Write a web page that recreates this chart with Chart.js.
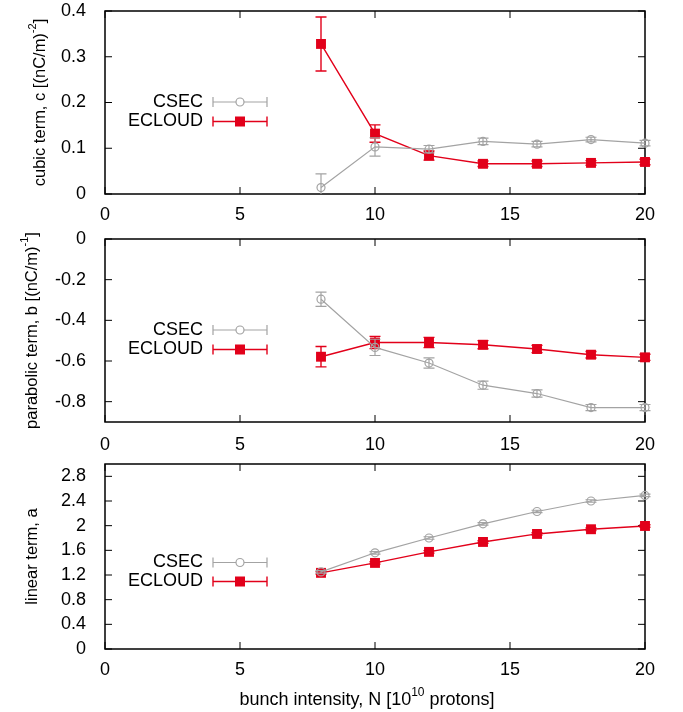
<!DOCTYPE html>
<html>
<head>
<meta charset="utf-8">
<script src="https://cdn.jsdelivr.net/npm/chart.js@4.4.0/dist/chart.umd.min.js"></script>
<style>
  body { margin: 0; background: #fff; }
  #wrap { position: relative; width: 683px; height: 712px; }
  canvas { position: absolute; left: 0; }
</style>
</head>
<body>
<div id="wrap">
  <canvas id="cubic" width="683" height="232" style="top:0px"></canvas>
  <canvas id="parabolic" width="683" height="232" style="top:225px"></canvas>
  <canvas id="linear" width="683" height="262" style="top:450px"></canvas>
</div>
<script>
// bunch intensity, N [1e10 protons]
const xValues = [8, 10, 12, 14, 16, 18, 20];
const xTicks = [0, 5, 10, 15, 20];

// cubic term c
const cubicCsec = [0.014, 0.103, 0.098, 0.115, 0.109, 0.119, 0.111];
const cubicCsecErr = [0.030, 0.020, 0.008, 0.007, 0.006, 0.005, 0.006];
const cubicEcloud = [0.328, 0.132, 0.084, 0.066, 0.066, 0.068, 0.070];
const cubicEcloudErr = [0.059, 0.019, 0.010, 0.006, 0.006, 0.005, 0.006];
const cubicTicks = [0, 0.1, 0.2, 0.3, 0.4];

// parabolic term b
const paraCsec = [-0.296, -0.533, -0.610, -0.719, -0.760, -0.829, -0.829];
const paraCsecErr = [0.035, 0.040, 0.025, 0.020, 0.018, 0.015, 0.015];
const paraEcloud = [-0.579, -0.509, -0.509, -0.520, -0.541, -0.569, -0.582];
const paraEcloudErr = [0.050, 0.030, 0.025, 0.020, 0.018, 0.016, 0.015];
const paraTicks = [0, -0.2, -0.4, -0.6, -0.8];

// linear term a
const linCsec = [1.25, 1.56, 1.80, 2.03, 2.23, 2.40, 2.49];
const linCsecErr = [0.02, 0.02, 0.02, 0.02, 0.02, 0.02, 0.02];
const linEcloud = [1.235, 1.396, 1.575, 1.736, 1.866, 1.942, 1.995];
const linEcloudErr = [0.02, 0.02, 0.02, 0.02, 0.02, 0.02, 0.02];
const linTicks = [0, 0.4, 0.8, 1.2, 1.6, 2, 2.4, 2.8];

const RED = '#e2001a';
const GREY = '#a3a3a3';
const FONT = '"Liberation Sans", Arial, Helvetica, sans-serif';
const FSIZE = 18;

// box round the plot with inward ticks on all four sides
const frame = {
  id: 'frame',
  beforeDatasetsDraw(chart) {
    const { ctx, chartArea: a, scales } = chart;
    ctx.save();
    ctx.strokeStyle = '#000';
    ctx.lineWidth = 1.5;
    ctx.strokeRect(a.left, a.top, a.width, a.height);
    ctx.lineWidth = 1;
    ctx.beginPath();
    scales.x.ticks.forEach(t => {
      const px = scales.x.getPixelForValue(t.value);
      ctx.moveTo(px, a.bottom); ctx.lineTo(px, a.bottom - 7);
      ctx.moveTo(px, a.top); ctx.lineTo(px, a.top + 7);
    });
    scales.y.ticks.forEach(t => {
      const py = scales.y.getPixelForValue(t.value);
      ctx.moveTo(a.left, py); ctx.lineTo(a.left + 7, py);
      ctx.moveTo(a.right, py); ctx.lineTo(a.right - 7, py);
    });
    ctx.stroke();
    ctx.restore();
  }
};

// vertical error bars, drawn under each dataset's own line
const errorBars = {
  id: 'errorBars',
  beforeDatasetDraw(chart, args) {
    const ds = chart.data.datasets[args.index];
    const y = chart.scales.y;
    const a = chart.chartArea;
    const ctx = chart.ctx;
    ctx.save();
    ctx.beginPath();
    ctx.rect(a.left - 20, a.top, a.width + 40, a.height);
    ctx.clip();
    ctx.strokeStyle = ds.borderColor;
    ctx.lineWidth = ds.borderWidth;
    ctx.beginPath();
    args.meta.data.forEach((pt, i) => {
      const v = ds.data[i].y, e = ds.errors[i];
      const top = y.getPixelForValue(v + e), bot = y.getPixelForValue(v - e);
      ctx.moveTo(pt.x, top); ctx.lineTo(pt.x, bot);
      ctx.moveTo(pt.x - 5.5, top); ctx.lineTo(pt.x + 5.5, top);
      ctx.moveTo(pt.x - 5.5, bot); ctx.lineTo(pt.x + 5.5, bot);
    });
    ctx.stroke();
    ctx.restore();
  }
};

// gnuplot style key inside the plot
const keyBox = {
  id: 'keyBox',
  afterDraw(chart, args, opts) {
    const ctx = chart.ctx;
    ctx.save();
    ctx.font = FSIZE + 'px ' + FONT;
    ctx.textAlign = 'right';
    ctx.textBaseline = 'middle';
    chart.data.datasets.forEach((ds, i) => {
      const yy = opts.rows[i];
      ctx.fillStyle = '#000';
      ctx.fillText(ds.label, opts.textRight, yy);
      ctx.strokeStyle = ds.borderColor;
      ctx.lineWidth = ds.borderWidth;
      ctx.beginPath();
      ctx.moveTo(opts.lineFrom, yy); ctx.lineTo(opts.lineTo, yy);
      ctx.moveTo(opts.lineFrom, yy - 5); ctx.lineTo(opts.lineFrom, yy + 5);
      ctx.moveTo(opts.lineTo, yy - 5); ctx.lineTo(opts.lineTo, yy + 5);
      ctx.stroke();
      const mx = (opts.lineFrom + opts.lineTo) / 2;
      if (ds.pointStyle === 'rect') {
        ctx.fillStyle = ds.pointBackgroundColor;
        ctx.fillRect(mx - 5, yy - 5, 10, 10);
      } else {
        ctx.fillStyle = '#fff';
        ctx.lineWidth = ds.pointBorderWidth;
        ctx.beginPath();
        ctx.arc(mx, yy, ds.pointRadius, 0, Math.PI * 2);
        ctx.fill();
        ctx.stroke();
      }
    });
    ctx.restore();
  }
};

// axis titles with superscripts
function drawParts(ctx, parts, size) {
  const big = size + 'px ' + FONT, small = Math.round(size * 0.68) + 'px ' + FONT;
  let w = 0;
  parts.forEach(p => { ctx.font = p.sup ? small : big; w += ctx.measureText(p.t).width; });
  let x = -w / 2;
  parts.forEach(p => {
    ctx.font = p.sup ? small : big;
    ctx.fillText(p.t, x, p.sup ? -size * 0.4 : 0);
    x += ctx.measureText(p.t).width;
  });
}
const titles = {
  id: 'titles',
  afterDraw(chart, args, opts) {
    const ctx = chart.ctx;
    ctx.save();
    ctx.fillStyle = '#000';
    ctx.textAlign = 'left';
    ctx.textBaseline = 'middle';
    ctx.save();
    ctx.translate(opts.yx, (chart.chartArea.top + chart.chartArea.bottom) / 2);
    ctx.rotate(-Math.PI / 2);
    drawParts(ctx, opts.y, 16.5);
    ctx.restore();
    if (opts.x) {
      ctx.translate(opts.xx, opts.xy);
      drawParts(ctx, opts.x, 18);
    }
    ctx.restore();
  }
};

function panel(id, cfg) {
  const tickFont = { family: FONT, size: FSIZE };
  return new Chart(document.getElementById(id), {
    type: 'line',
    data: {
      datasets: [
        {
          label: 'CSEC',
          data: xValues.map((x, i) => ({ x, y: cfg.csec[i] })),
          errors: cfg.csecErr,
          borderColor: GREY, borderWidth: 1.2,
          pointStyle: 'circle', pointRadius: 4,
          pointBackgroundColor: 'rgba(255,255,255,0)',
          pointBorderColor: GREY, pointBorderWidth: 1.2,
          clip: false
        },
        {
          label: 'ECLOUD',
          data: xValues.map((x, i) => ({ x, y: cfg.ecloud[i] })),
          errors: cfg.ecloudErr,
          borderColor: RED, borderWidth: 1.4,
          pointStyle: 'rect', pointRadius: 7,
          pointBackgroundColor: RED,
          pointBorderColor: RED, pointBorderWidth: 0,
          clip: false
        }
      ]
    },
    options: {
      responsive: false,
      animation: false,
      events: [],
      layout: { padding: { top: cfg.padTop, right: 38, left: 0, bottom: 0 } },
      plugins: {
        legend: { display: false },
        tooltip: { enabled: false },
        keyBox: { rows: cfg.keyRows, textRight: 203, lineFrom: 213, lineTo: 267 },
        titles: cfg.titles
      },
      scales: {
        x: {
          type: 'linear', min: 0, max: 20,
          afterBuildTicks: s => { s.ticks = xTicks.map(v => ({ value: v })); },
          afterFit: s => { s.height = cfg.xHeight; s.paddingLeft = 0; s.paddingRight = 0; },
          grid: { display: false },
          border: { display: false },
          ticks: { padding: cfg.xPad, font: tickFont, color: '#000', maxRotation: 0, autoSkip: false }
        },
        y: {
          type: 'linear', min: cfg.yMin, max: cfg.yMax,
          afterBuildTicks: s => { s.ticks = cfg.yTicks.map(v => ({ value: v })); },
          afterFit: s => { s.width = 105; s.paddingTop = 0; s.paddingBottom = 0; },
          grid: { display: false },
          border: { display: false },
          ticks: {
            padding: 11, font: tickFont, color: '#000', autoSkip: false,
            callback: v => String(+Number(v).toFixed(2))
          }
        }
      }
    },
    plugins: [frame, errorBars, keyBox, titles]
  });
}

panel('cubic', {
  csec: cubicCsec, csecErr: cubicCsecErr, ecloud: cubicEcloud, ecloudErr: cubicEcloudErr,
  yMin: 0, yMax: 0.4, yTicks: cubicTicks,
  padTop: 11, xHeight: 38, xPad: 2,
  keyRows: [102, 121.5],
  titles: { yx: 40, y: [{ t: 'cubic term, c [(nC/m)' }, { t: '-2', sup: true }, { t: ']' }] }
});

panel('parabolic', {
  csec: paraCsec, csecErr: paraCsecErr, ecloud: paraEcloud, ecloudErr: paraEcloudErr,
  yMin: -0.9, yMax: 0, yTicks: paraTicks,
  padTop: 14, xHeight: 35, xPad: 4,
  keyRows: [105, 124.5],
  titles: { yx: 32, y: [{ t: 'parabolic term, b [(nC/m)' }, { t: '-1', sup: true }, { t: ']' }] }
});

panel('linear', {
  csec: linCsec, csecErr: linCsecErr, ecloud: linEcloud, ecloudErr: linEcloudErr,
  yMin: 0, yMax: 3.0, yTicks: linTicks,
  padTop: 14, xHeight: 63, xPad: 2,
  keyRows: [112.5, 131.5],
  titles: {
    yx: 32, y: [{ t: 'linear term, a' }],
    xx: 367, xy: 250,
    x: [{ t: 'bunch intensity, N [10' }, { t: '10', sup: true }, { t: ' protons]' }]
  }
});
</script>
</body>
</html>
